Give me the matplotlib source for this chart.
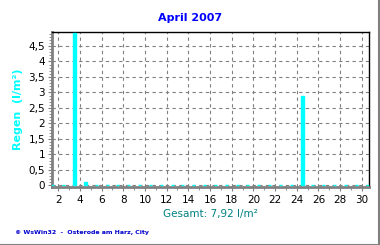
import matplotlib
matplotlib.use("Agg")
import matplotlib.pyplot as plt
from matplotlib.ticker import MultipleLocator, FuncFormatter
from matplotlib.lines import Line2D

days = list(range(1, 31))
rain = [0]*30
rain[2] = 4.92   # day 3
rain[3] = 0.10   # day 4
rain[23] = 2.90  # day 24
xticks = list(range(2, 31, 2))
yticks = [i*0.5 for i in range(10)]
title = "April 2007"
ylabel = "Regen  (l/m²)"
total_text = "Gesamt: 7,92 l/m²"
footer = "© WsWin32  -  Osterode am Harz, City"

fig = plt.figure(figsize=(3.8, 2.45), dpi=100)
ax = fig.add_axes([52/380, 1-187/245, (369-52)/380, (187-32)/245])

pos = [d + 0.5 for d in days]
ax.bar(pos, rain, width=0.28, color="#00ffff", edgecolor="#00ffff", linewidth=1.0, zorder=3)

ax.set_xlim(1.42, 30.67)
ax.set_ylim(-0.05, 4.95)
ax.set_xticks(xticks)
ax.set_yticks(yticks)
ax.xaxis.set_minor_locator(MultipleLocator(1))
ax.yaxis.set_minor_locator(MultipleLocator(0.1))
ax.yaxis.set_major_formatter(FuncFormatter(lambda v, p: ("%g" % v).replace(".", ",")))
ax.tick_params(axis="both", which="major", labelsize=7.5, color="#808080", length=3, pad=2)
ax.tick_params(axis="both", which="minor", color="#808080", length=2)
ax.tick_params(axis="x", which="major", pad=3)
ax.grid(True, which="major", color="#808080", linestyle=(0, (3, 3)), linewidth=0.8, zorder=1)

for s in ("left", "bottom"):
    ax.spines[s].set_color("#808080")
    ax.spines[s].set_linewidth(2)
for s in ("top", "right"):
    ax.spines[s].set_color("black")
    ax.spines[s].set_linewidth(1)

ax.set_ylabel(ylabel, color="#00ffff", fontsize=8, fontweight="bold", labelpad=4)

fig.text(0.5, 1-18/245, title, ha="center", va="center", color="#0000ff", fontsize=8, fontweight="bold")
fig.text(210/380, 1-214/245, total_text, ha="center", va="center", color="#008080", fontsize=7.5)
fig.text(15/380, 1-232/245, footer, ha="left", va="center", color="#0000cc", fontsize=4.5, fontweight="bold")

fig.add_artist(Line2D([378.5/380, 378.5/380], [0, 1], transform=fig.transFigure, color="#808080", linewidth=1.5))
fig.add_artist(Line2D([0, 1], [0.5/245, 0.5/245], transform=fig.transFigure, color="#808080", linewidth=1.5))

fig.savefig("out.png", dpi=100)
